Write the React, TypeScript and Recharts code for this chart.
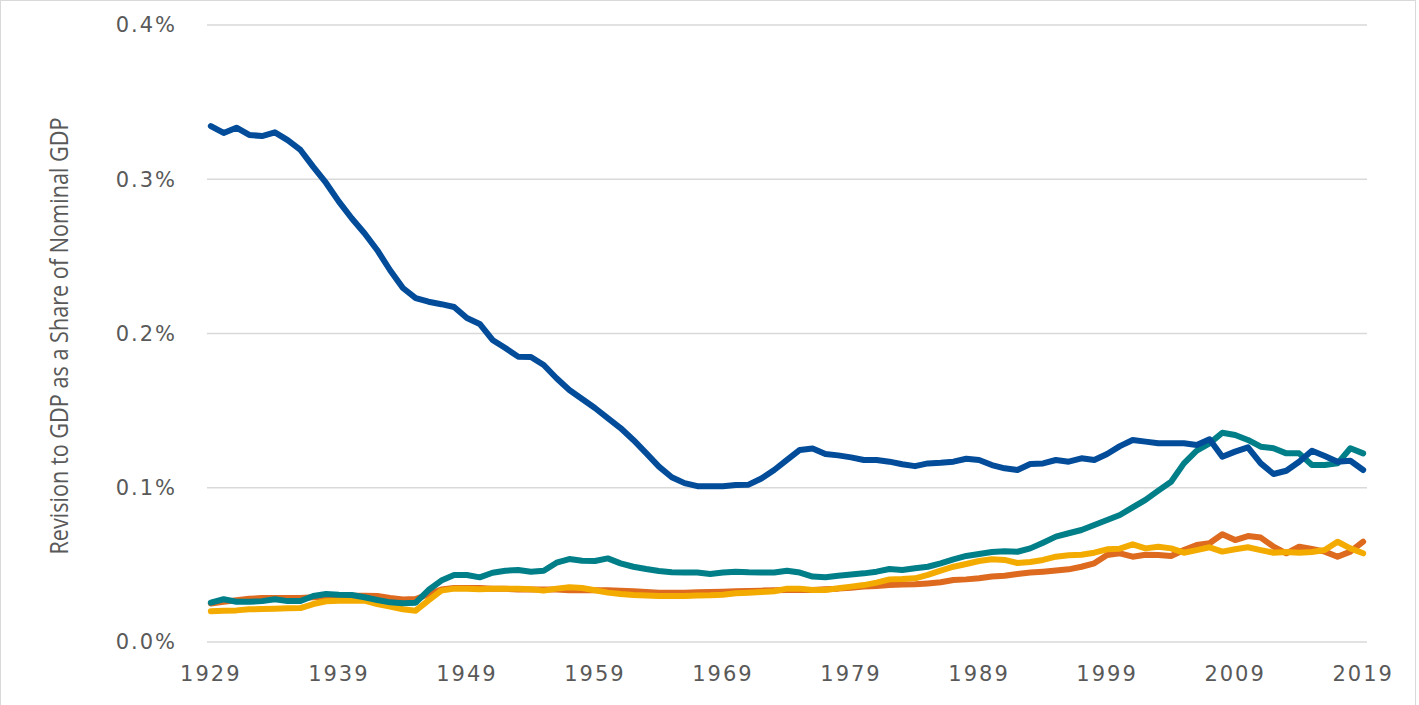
import React from 'react';
import { LineChart, Line, XAxis, YAxis, CartesianGrid, Label } from 'recharts';

// annual values, 1929..2019, as percent of nominal GDP
const years = Array.from({ length: 91 }, (_, i) => 1929 + i);
const yearTicks = [1929, 1939, 1949, 1959, 1969, 1979, 1989, 1999, 2009, 2019];
const pctTicks = [0, 0.1, 0.2, 0.3, 0.4];

const darkBlue = [
  0.3345, 0.33, 0.3334, 0.3287, 0.328, 0.3304, 0.3254, 0.319, 0.308, 0.2976,
  0.2855, 0.2747, 0.265, 0.254, 0.241, 0.2295, 0.223, 0.2206, 0.219, 0.2172,
  0.21, 0.2062, 0.1958, 0.1906, 0.185, 0.1848, 0.1796, 0.171, 0.1634, 0.1575,
  0.1517, 0.1452, 0.1387, 0.131, 0.1225, 0.1137, 0.1068, 0.103, 0.101, 0.101,
  0.101, 0.1018, 0.102, 0.106, 0.1115, 0.118, 0.1245, 0.1255, 0.1219, 0.121,
  0.1197, 0.118, 0.118, 0.1169, 0.1152, 0.114, 0.1158, 0.1162, 0.1169, 0.1188,
  0.118, 0.1147, 0.1126, 0.1115, 0.1154, 0.1158, 0.118, 0.1169, 0.1191, 0.118,
  0.1219, 0.127, 0.131, 0.1299, 0.1288, 0.1288, 0.1288, 0.1277, 0.1314, 0.1201,
  0.1234, 0.1262, 0.1158, 0.1089, 0.111, 0.1169, 0.124, 0.1206, 0.1169, 0.1175,
  0.1115,
];

const teal = [
  0.0255, 0.0277, 0.0261, 0.0261, 0.0265, 0.0277, 0.0265, 0.0266, 0.0298, 0.0311,
  0.0307, 0.0305, 0.029, 0.0272, 0.0257, 0.0251, 0.0255, 0.0337, 0.0398, 0.0434,
  0.0434, 0.0419, 0.0449, 0.0462, 0.0467, 0.0456, 0.0462, 0.0514, 0.0538, 0.0527,
  0.0525, 0.0542, 0.051, 0.0488, 0.0473, 0.046, 0.0452, 0.045, 0.045, 0.0441,
  0.045, 0.0456, 0.0452, 0.045, 0.045, 0.0462, 0.045, 0.0424, 0.042, 0.043,
  0.0437, 0.0445, 0.0456, 0.0473, 0.0467, 0.0478, 0.0488, 0.051, 0.0536, 0.0558,
  0.0571, 0.0583, 0.0588, 0.0585, 0.0607, 0.0644, 0.0683, 0.0705, 0.0726, 0.0759,
  0.0791, 0.0823, 0.0873, 0.0921, 0.0981, 0.1039, 0.1158, 0.124, 0.1288, 0.1357,
  0.1342, 0.131, 0.1266, 0.1256, 0.1223, 0.1223, 0.1147, 0.1147, 0.1158, 0.1256,
  0.1223,
];

const orange = [
  0.025, 0.026, 0.027, 0.028, 0.0285, 0.0285, 0.0285, 0.0285, 0.029, 0.0295,
  0.03, 0.03, 0.03, 0.0298, 0.0285, 0.0275, 0.0278, 0.031, 0.034, 0.035,
  0.035, 0.035, 0.0345, 0.0345, 0.034, 0.034, 0.034, 0.034, 0.0335, 0.0335,
  0.0335, 0.0335, 0.0333, 0.0329, 0.0324, 0.032, 0.032, 0.032, 0.0322, 0.0324,
  0.0326, 0.0329, 0.0331, 0.0333, 0.0335, 0.0337, 0.0337, 0.0337, 0.0342, 0.0346,
  0.0352, 0.0359, 0.0363, 0.0369, 0.0372, 0.0374, 0.038, 0.0387, 0.0402, 0.0406,
  0.0413, 0.0424, 0.043, 0.0441, 0.045, 0.0456, 0.0463, 0.0471, 0.0488, 0.051,
  0.0564, 0.0575, 0.0553, 0.0566, 0.0564, 0.0558, 0.0596, 0.0629, 0.064, 0.0698,
  0.0661, 0.0687, 0.0677, 0.0618, 0.0575, 0.0618, 0.0603, 0.0586, 0.0553, 0.0586,
  0.065,
];

const gold = [
  0.02, 0.0203, 0.0205, 0.0212, 0.0214, 0.0216, 0.0218, 0.022, 0.0246, 0.0264,
  0.0268, 0.0268, 0.0268, 0.0246, 0.0229, 0.0212, 0.0203, 0.027, 0.0333, 0.0346,
  0.0346, 0.0342, 0.0346, 0.0346, 0.0346, 0.0342, 0.0333, 0.0346, 0.0355, 0.035,
  0.0335, 0.032, 0.0311, 0.0305, 0.0301, 0.0298, 0.0298, 0.0298, 0.0301, 0.0303,
  0.0307, 0.0316, 0.032, 0.0324, 0.0329, 0.0346, 0.0346, 0.0337, 0.0337, 0.0348,
  0.0359, 0.0369, 0.0385, 0.0406, 0.0408, 0.0413, 0.0435, 0.0463, 0.0488, 0.0506,
  0.0525, 0.0536, 0.0532, 0.0512, 0.0519, 0.0532, 0.0553, 0.0562, 0.0566, 0.0579,
  0.0601, 0.0605, 0.0633, 0.0607, 0.0618, 0.0607, 0.0579, 0.0596, 0.0614, 0.0586,
  0.0601, 0.0614, 0.0596, 0.0579, 0.0583, 0.0579, 0.0583, 0.0596, 0.065, 0.0607,
  0.0575,
];

const chartData = years.map((year, i) => ({
  year,
  darkBlue: darkBlue[i],
  teal: teal[i],
  orange: orange[i],
  gold: gold[i],
}));

const tickStyle = {
  fill: '#595959',
  fontSize: 21,
  fontFamily: '"DejaVu Sans", sans-serif',
  letterSpacing: 2,
};

const AxisTitle = () => (
  <text
    x={58}
    y={336}
    transform="rotate(-90 58 336)"
    textAnchor="middle"
    dominantBaseline="central"
    fill="#595959"
    fontSize={26}
    fontFamily='"Open Sans", sans-serif'
    textLength={437}
    lengthAdjust="spacingAndGlyphs"
  >
    Revision to GDP as a Share of Nominal GDP
  </text>
);

const App: React.FC = () => {
  return (
    <div style={{ position: 'absolute', left: 0, top: 0, width: 1419, height: 705, background: '#fff' }}>
      <div
        style={{
          position: 'absolute',
          left: 0,
          top: 0,
          width: 1416,
          height: 712,
          border: '1.5px solid #d9d9d9',
          boxSizing: 'border-box',
        }}
      />
      <LineChart width={1419} height={705} data={chartData} margin={{ top: 25, right: 52, bottom: 0, left: 0 }}>
        <CartesianGrid vertical={false} stroke="#d9d9d9" strokeWidth={1.5} />
        <XAxis
          dataKey="year"
          type="number"
          domain={[1928.7, 2019.3]}
          ticks={yearTicks}
          allowDataOverflow
          height={63}
          axisLine={false}
          tickLine={false}
          tickSize={0}
          tickMargin={24}
          tick={tickStyle}
        />
        <YAxis
          domain={[0, 0.4]}
          ticks={pctTicks}
          width={207}
          axisLine={false}
          tickLine={false}
          tickSize={0}
          tickMargin={30}
          tick={tickStyle}
          tickFormatter={(v: number) => `${v.toFixed(1)}%`}
        >
          <Label content={AxisTitle} />
        </YAxis>
        <Line dataKey="orange" stroke="#dd6a1e" strokeWidth={6} dot={false} isAnimationActive={false} strokeLinejoin="round" strokeLinecap="round" />
        <Line dataKey="gold" stroke="#f4ab00" strokeWidth={6} dot={false} isAnimationActive={false} strokeLinejoin="round" strokeLinecap="round" />
        <Line dataKey="teal" stroke="#007f88" strokeWidth={6} dot={false} isAnimationActive={false} strokeLinejoin="round" strokeLinecap="round" />
        <Line dataKey="darkBlue" stroke="#024c9a" strokeWidth={6} dot={false} isAnimationActive={false} strokeLinejoin="round" strokeLinecap="round" />
      </LineChart>
    </div>
  );
};

export default App;
